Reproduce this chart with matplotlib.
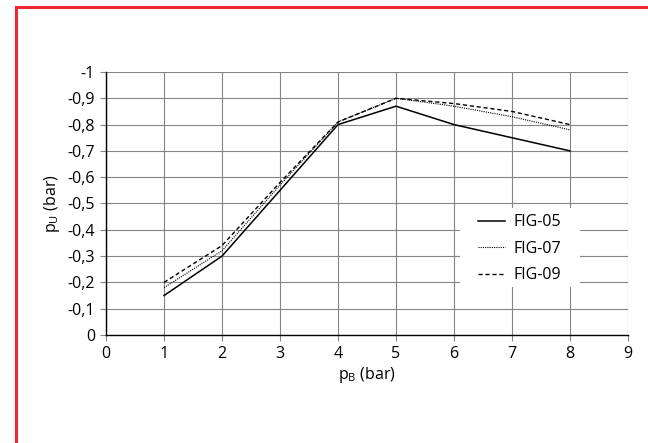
import numpy as np
import matplotlib
matplotlib.use("Agg")
import matplotlib.pyplot as plt
from matplotlib.patches import Rectangle
from matplotlib.ticker import FuncFormatter

plt.rcParams.update({
    "font.family": "Open Sans",
    "font.size": 11,
    "mathtext.fontset": "custom",
    "mathtext.rm": "Open Sans",
    "mathtext.it": "Open Sans",
})

p_b = [1, 2, 3, 4, 5, 6, 7, 8]
fig05 = [-0.15, -0.30, -0.55, -0.80, -0.87, -0.80, -0.75, -0.70]
fig07 = [-0.18, -0.32, -0.57, -0.81, -0.90, -0.87, -0.83, -0.78]
fig09 = [-0.20, -0.34, -0.58, -0.81, -0.90, -0.88, -0.85, -0.80]

fig = plt.figure(figsize=(6.48, 4.43), dpi=100)
ax = fig.add_axes([106 / 648, 1 - 335 / 443, 522 / 648, 263 / 443])

ax.plot(p_b, fig05, color="black", lw=1.1, label="FIG-05", zorder=3)
ax.plot(p_b, fig07, color="black", lw=0.8, linestyle=(0, (1, 1)), label="FIG-07", zorder=3)
ax.plot(p_b, fig09, color="black", lw=1.0, linestyle=(0, (3, 2)), label="FIG-09", zorder=3)

ax.set_xlim(0, 9)
ax.set_ylim(0, -1)
ax.set_xticks(np.arange(0, 10, 1))
ax.set_yticks(np.arange(0, -1.05, -0.1))
ax.yaxis.set_major_formatter(FuncFormatter(lambda v, p: "0" if abs(v) < 1e-9 else
                                           ("-1" if abs(v + 1) < 1e-9 else f"{v:.1f}".replace(".", ","))))
ax.grid(color="#858585", lw=0.8)
ax.set_axisbelow(True)
for s in ["top", "right"]:
    ax.spines[s].set_visible(False)
for s in ["left", "bottom"]:
    ax.spines[s].set_color("black")
    ax.spines[s].set_linewidth(1.0)
ax.tick_params(length=4, width=0.8, color="#858585", pad=4, labelsize=11.5)

ax.set_xlabel(r"p$_\mathrm{B}$ (bar)", fontsize=11.5, labelpad=2)
ax.set_ylabel(r"p$_\mathrm{U}$ (bar)", fontsize=11.5, labelpad=4)

# white box behind the legend, hiding the grid
ax.add_patch(Rectangle((0.678, 0.183), 0.23, 0.30, transform=ax.transAxes,
                       facecolor="white", edgecolor="none", zorder=1))
ax.legend(loc="center", bbox_to_anchor=(0.792, 0.328), frameon=False,
          handlelength=1.7, handletextpad=0.5, fontsize=11.5, labelspacing=0.65)

fig.patches.append(Rectangle((16 / 648, -0.1), 1.2, 1 - 7 / 443 + 0.1, transform=fig.transFigure,
                             fill=False, edgecolor="#ee2a36", lw=2.2, clip_on=False))

fig.savefig("out.png", dpi=100)
